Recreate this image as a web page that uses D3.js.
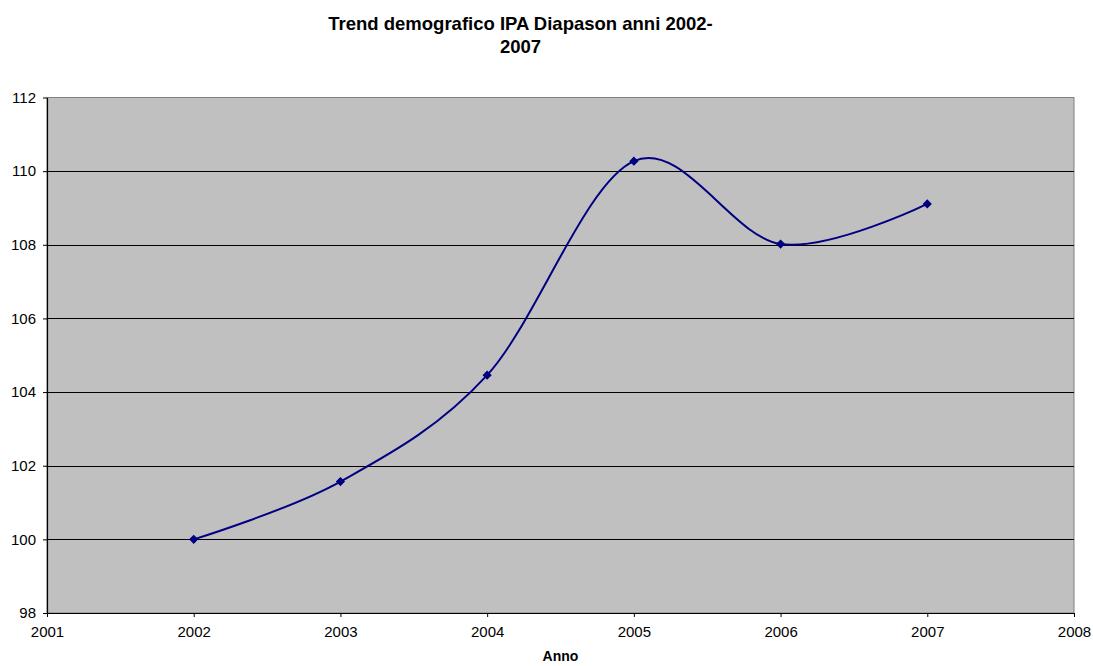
<!DOCTYPE html>
<html>
<head>
<meta charset="utf-8">
<script src="https://cdn.jsdelivr.net/npm/d3@7"></script>
<style>
  html, body { margin: 0; padding: 0; background: #ffffff; }
  svg { display: block; font-family: "Liberation Sans", Arial, sans-serif; }
</style>
</head>
<body>
<svg id="chart" width="1093" height="666"></svg>
<script>
// Demographic index per year (base 2002 = 100)
const years = [2002, 2003, 2004, 2005, 2006, 2007];
const values = [100, 101.57, 104.46, 110.27, 108.02, 109.11];
const xTicks = [2001, 2002, 2003, 2004, 2005, 2006, 2007, 2008];
const yTicks = [98, 100, 102, 104, 106, 108, 110, 112];
const titleLines = ["Trend demografico IPA Diapason anni 2002-", "2007"];
const xAxisTitle = "Anno";

const svg = d3.select("#chart");
const m = { left: 47, top: 97.5, right: 1074, bottom: 613 };

const x = d3.scaleLinear().domain([2001, 2008]).range([m.left, m.right]);
const y = d3.scaleLinear().domain([98, 112]).range([m.bottom, m.top]);

// plot area
svg.append("rect")
  .attr("x", m.left).attr("y", m.top)
  .attr("width", m.right - m.left).attr("height", m.bottom - m.top)
  .attr("fill", "#c0c0c0")
  .attr("stroke", "#808080").attr("stroke-width", 1);

// horizontal gridlines
svg.append("g")
  .selectAll("line")
  .data(yTicks.filter(d => d !== 98 && d !== 112))
  .join("line")
  .attr("x1", m.left).attr("x2", m.right)
  .attr("y1", d => Math.round(y(d)) + 0.5).attr("y2", d => Math.round(y(d)) + 0.5)
  .attr("stroke", "#000").attr("stroke-width", 1);

// axes
const xAxis = d3.axisBottom(x).tickValues(xTicks).tickFormat(d3.format("d")).tickSizeInner(4).tickSizeOuter(0).tickPadding(9);
const yAxis = d3.axisLeft(y).tickValues(yTicks).tickFormat(d3.format("d")).tickSizeInner(4).tickSizeOuter(0).tickPadding(7);

const gx = svg.append("g").attr("transform", `translate(0,${m.bottom})`).call(xAxis);
const gy = svg.append("g").attr("transform", `translate(${m.left},0)`).call(yAxis);

[gx, gy].forEach(g => {
  g.select(".domain").attr("stroke", "#000").attr("stroke-width", 1.2);
  g.selectAll(".tick line").attr("stroke", "#000");
  g.selectAll(".tick text")
    .attr("fill", "#000")
    .style("font-size", "15px")
    .style("font-family", "'Liberation Sans', Arial, sans-serif");
});

// smoothed series line
const line = d3.line()
  .x((d, i) => x(years[i]))
  .y(d => y(d))
  .curve(d3.curveCatmullRom.alpha(0));

svg.append("path")
  .datum(values)
  .attr("d", line)
  .attr("fill", "none")
  .attr("stroke", "#000080")
  .attr("stroke-width", 2);

// diamond markers (square rotated 45 degrees)
const marker = d3.symbol().type(d3.symbolSquare).size(30);
svg.append("g")
  .selectAll("path")
  .data(values)
  .join("path")
  .attr("transform", (d, i) => `translate(${x(years[i])},${y(d)}) rotate(45)`)
  .attr("d", marker)
  .attr("fill", "#000080")
  .attr("stroke", "#000080")
  .attr("stroke-width", 1);

// title
const title = svg.append("text")
  .attr("text-anchor", "middle")
  .style("font-size", "18.5px")
  .style("font-weight", "bold")
  .attr("fill", "#000");
titleLines.forEach((t, i) => {
  title.append("tspan").attr("x", 520.5).attr("y", 30 + i * 23).text(t);
});

// x axis title
svg.append("text")
  .attr("x", (m.left + m.right) / 2)
  .attr("y", 661)
  .attr("text-anchor", "middle")
  .style("font-size", "14px")
  .style("font-weight", "bold")
  .attr("fill", "#000")
  .text(xAxisTitle);
</script>
</body>
</html>
